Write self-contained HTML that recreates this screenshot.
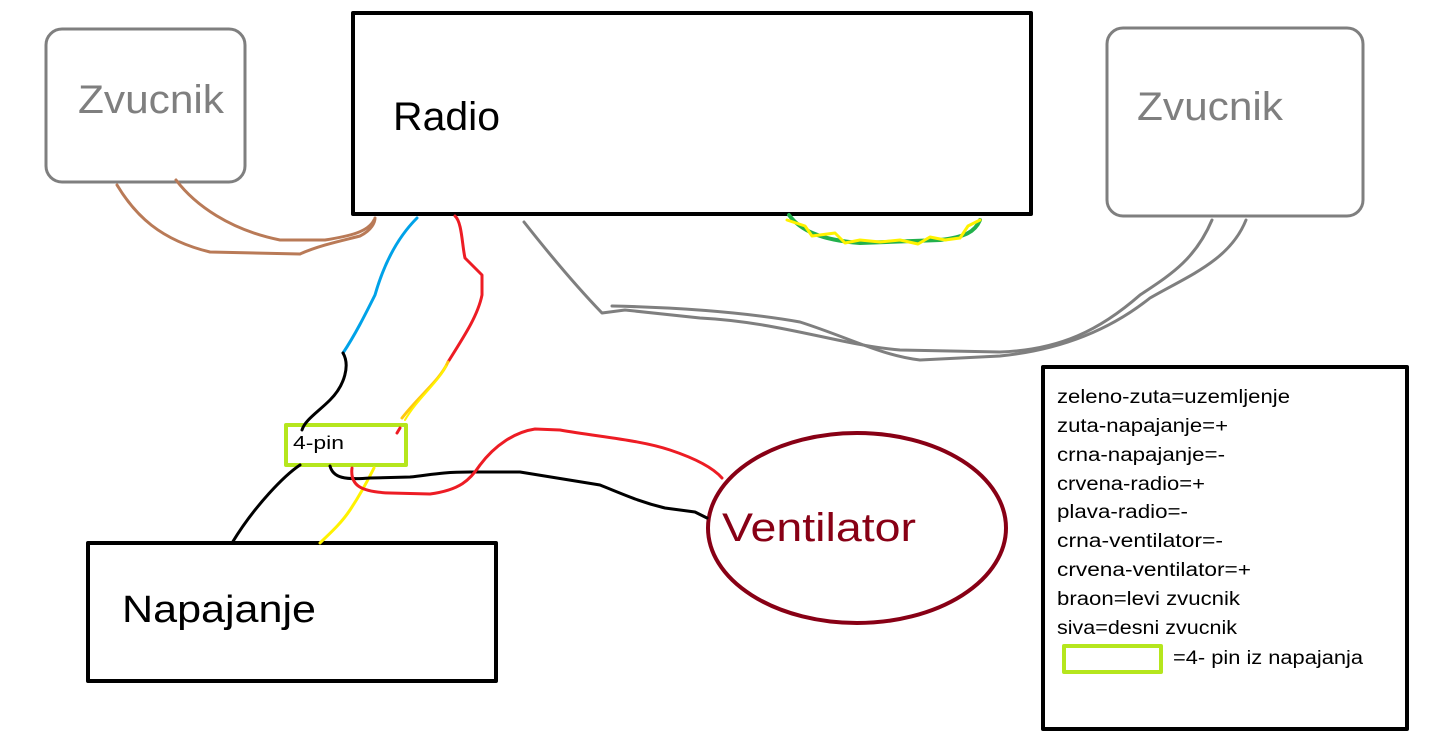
<!DOCTYPE html>
<html><head><meta charset="utf-8"><style>
html,body{margin:0;padding:0;background:#fff;width:1434px;height:756px;overflow:hidden}
svg{display:block}
text{font-family:"Liberation Sans",sans-serif}
</style></head><body>
<svg width="1434" height="756" viewBox="0 0 1434 756" xmlns="http://www.w3.org/2000/svg">
<g fill="none" stroke-linejoin="round" stroke-linecap="round">
<rect x="46" y="29" width="199" height="153" rx="16" stroke="#7f7f7f" stroke-width="3"/>
<rect x="1107" y="28" width="256" height="188" rx="16" stroke="#7f7f7f" stroke-width="3"/>
<rect x="353" y="13" width="678" height="201" stroke="#000" stroke-width="4"/>
<rect x="88" y="543" width="408" height="138" stroke="#000" stroke-width="4"/>
<rect x="1043" y="367" width="364" height="362" stroke="#000" stroke-width="4"/>
<ellipse cx="857" cy="528" rx="149" ry="95" stroke="#880015" stroke-width="4"/>
<rect x="286" y="425" width="120" height="40" stroke="#b5e61d" stroke-width="4"/>
<rect x="1064" y="646" width="97" height="26" stroke="#b5e61d" stroke-width="4"/>

<path d="M117 185 C135 215 160 240 210 252 L300 254 C320 245 345 240 360 236 C372 230 375 222 375 218" stroke="#b97a57" stroke-width="3"/>
<path d="M176 180 C195 205 230 230 280 240 L325 240 C350 236 368 232 374 220" stroke="#b97a57" stroke-width="3"/>
<path d="M524 222 C550 255 575 285 602 313 L625 310 L700 318 C780 322 840 345 900 350 L1000 352 C1060 350 1100 330 1140 295 C1170 275 1195 260 1212 220" stroke="#7f7f7f" stroke-width="3"/>
<path d="M612 306 C700 308 760 315 800 322 C850 338 880 355 920 360 L1000 356 C1060 350 1110 330 1150 298 C1190 275 1230 260 1246 220" stroke="#7f7f7f" stroke-width="3"/>
<path d="M789 215 C800 230 820 240 860 243 L940 240 C965 237 975 232 980 220" stroke="#22b14c" stroke-width="4"/>
<path d="M787 220 L805 226 L812 236 L835 233 L845 243 L860 240 L880 242 L900 240 L918 244 L930 237 L945 240 L960 238 L968 226 L980 220" stroke="#fff200" stroke-width="3"/>
<path d="M417 218 C400 235 385 260 375 295 C365 315 355 335 343 353" stroke="#00a2e8" stroke-width="3"/>
<path d="M455 216 C462 222 462 245 465 258 L482 275 L482 295 C478 315 465 335 448 362" stroke="#ed1c24" stroke-width="3"/>
<path d="M448 362 C440 380 420 395 402 418" stroke="#ffc90e" stroke-width="3"/>
<path d="M446 366 C436 385 418 398 405 420" stroke="#fff200" stroke-width="2"/>
<path d="M400 428 L397 433" stroke="#ed1c24" stroke-width="3"/>
<path d="M343 353 C350 365 345 385 330 400 C318 412 305 420 302 430" stroke="#000" stroke-width="3"/>
<path d="M300 465 C285 475 255 505 232 543" stroke="#000" stroke-width="3"/>
<path d="M374 468 C368 480 360 495 350 510 C340 525 328 535 320 543" stroke="#fff200" stroke-width="3"/>
<path d="M330 466 C333 478 345 480 370 478 L410 477 C430 475 440 472 470 472 L520 472 C540 475 570 480 600 485 C625 495 640 502 665 508 L695 512 L707 518" stroke="#000" stroke-width="3"/>
<path d="M352 468 C350 485 360 492 390 493 L430 494 C460 490 470 480 480 465 C495 445 515 432 535 429 L560 430 C600 437 640 440 670 450 C700 460 715 470 722 478" stroke="#ed1c24" stroke-width="3"/>
</g>
<text x="78" y="113" font-size="40" fill="#7f7f7f" textLength="146" lengthAdjust="spacingAndGlyphs">Zvucnik</text>
<text x="1137" y="120" font-size="40" fill="#7f7f7f" textLength="146" lengthAdjust="spacingAndGlyphs">Zvucnik</text>
<text x="393" y="130" font-size="40" fill="#000" textLength="107" lengthAdjust="spacingAndGlyphs">Radio</text>
<text x="122" y="622" font-size="38" fill="#000" textLength="194" lengthAdjust="spacingAndGlyphs">Napajanje</text>
<text x="722" y="541" font-size="40" fill="#880015" textLength="194" lengthAdjust="spacingAndGlyphs">Ventilator</text>
<text x="293" y="449" font-size="18" fill="#000" textLength="51" lengthAdjust="spacingAndGlyphs">4-pin</text>
<g font-size="19" fill="#000" lengthAdjust="spacingAndGlyphs">
<text x="1057" y="403" textLength="233" lengthAdjust="spacingAndGlyphs">zeleno-zuta=uzemljenje</text>
<text x="1057" y="432" textLength="171" lengthAdjust="spacingAndGlyphs">zuta-napajanje=+</text>
<text x="1057" y="461" textLength="168" lengthAdjust="spacingAndGlyphs">crna-napajanje=-</text>
<text x="1057" y="490" textLength="148" lengthAdjust="spacingAndGlyphs">crvena-radio=+</text>
<text x="1057" y="518" textLength="131" lengthAdjust="spacingAndGlyphs">plava-radio=-</text>
<text x="1057" y="547" textLength="166" lengthAdjust="spacingAndGlyphs">crna-ventilator=-</text>
<text x="1057" y="576" textLength="194" lengthAdjust="spacingAndGlyphs">crvena-ventilator=+</text>
<text x="1057" y="605" textLength="183" lengthAdjust="spacingAndGlyphs">braon=levi zvucnik</text>
<text x="1057" y="634" textLength="180" lengthAdjust="spacingAndGlyphs">siva=desni zvucnik</text>
<text x="1173" y="664" textLength="190" lengthAdjust="spacingAndGlyphs">=4- pin iz napajanja</text>
</g>
</svg>
</body></html>
